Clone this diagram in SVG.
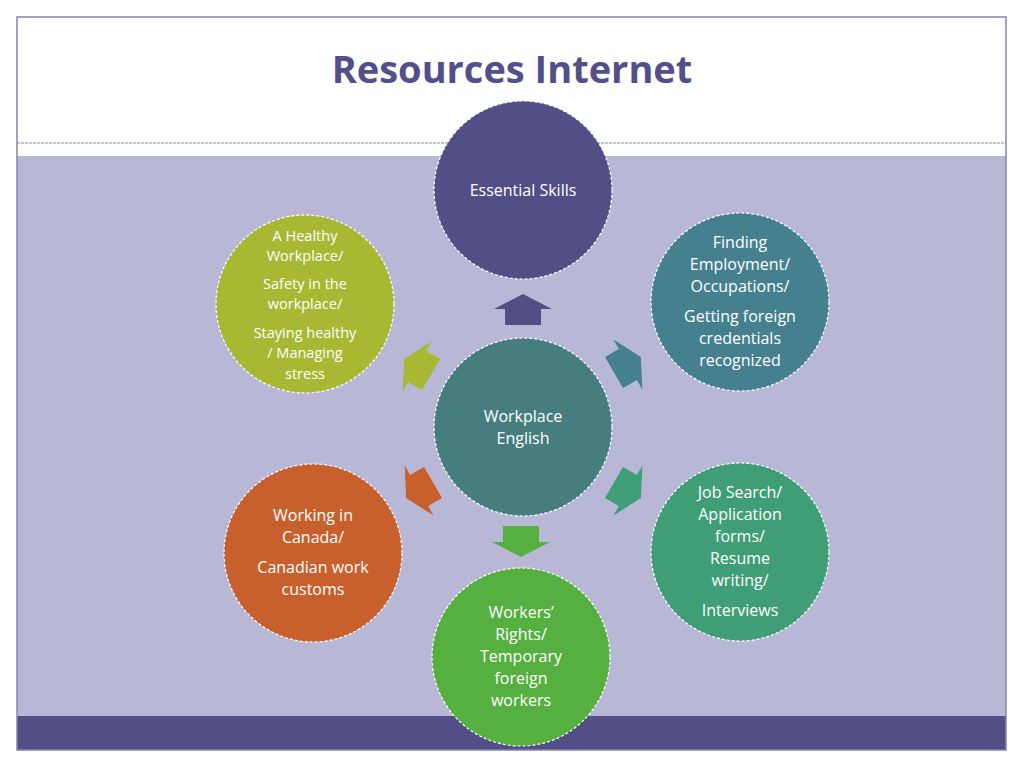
<svg xmlns="http://www.w3.org/2000/svg" width="1024" height="768" viewBox="0 0 1024 768">
<defs>
<style>
.c{stroke:#fff;stroke-width:1.2;stroke-dasharray:3 2}
.t{font-family:"Open Sans","Liberation Sans",sans-serif;font-size:16px;fill:#fff;text-anchor:middle}
</style>
<path id="ar" d="M0,-16 L29,-1 L18,-1 L18,15 L-18,15 L-18,-1 L-29,-1 Z"/>
</defs>
<rect width="1024" height="768" fill="#fff"/>
<rect x="17" y="156" width="989" height="560" fill="#b8b8d6"/>
<rect x="17" y="716" width="989" height="34" fill="#524f87"/>
<rect x="17" y="17" width="989" height="733" fill="none" stroke="#8584b0" stroke-width="1.5"/>
<line x1="17" y1="143" x2="1006" y2="143" stroke="#8584b0" stroke-width="1" stroke-dasharray="3 1"/>
<text x="512" y="83" text-anchor="middle" font-family="'Open Sans','Liberation Sans',sans-serif" font-size="38" font-weight="bold" fill="#524f8a">Resources Internet</text>
<g id="connectors">
<use href="#ar" transform="translate(523,310)" fill="#524f87"/>
<use href="#ar" transform="translate(627,365) rotate(60)" fill="#45808f"/>
<use href="#ar" transform="translate(627,490) rotate(120)" fill="#3f9e75"/>
<use href="#ar" transform="translate(521,541) rotate(180)" fill="#55b03f"/>
<use href="#ar" transform="translate(420,490) rotate(240)" fill="#c8602d"/>
<use href="#ar" transform="translate(418,367) rotate(300)" fill="#a8b833"/>
</g>
<g id="n-top"><circle class="c" cx="523" cy="190" r="89" fill="#524f87"/><text class="t" x="523" y="196">Essential Skills</text></g>
<g id="n-center"><circle class="c" cx="523" cy="427" r="89" fill="#467e80"/><text class="t" font-size="17" x="523" y="422">Workplace</text><text class="t" font-size="17" x="523" y="444">English</text></g>
<g id="n-tr"><circle class="c" cx="740" cy="302" r="89" fill="#45808f"/>
<text class="t" x="740" y="248">Finding</text><text class="t" x="740" y="270">Employment/</text><text class="t" x="740" y="292">Occupations/</text><text class="t" x="740" y="322">Getting foreign</text><text class="t" x="740" y="344">credentials</text><text class="t" x="740" y="366">recognized</text></g>
<g id="n-br"><circle class="c" cx="740" cy="552" r="89" fill="#3f9e75"/>
<text class="t" x="740" y="498">Job Search/</text><text class="t" x="740" y="520">Application</text><text class="t" x="740" y="542">forms/</text><text class="t" x="740" y="564">Resume</text><text class="t" x="740" y="586">writing/</text><text class="t" x="740" y="616">Interviews</text></g>
<g id="n-bottom"><circle class="c" cx="521" cy="657" r="89" fill="#55b03f"/>
<text class="t" x="521" y="618">Workers’</text><text class="t" x="521" y="640">Rights/</text><text class="t" x="521" y="662">Temporary</text><text class="t" x="521" y="684">foreign</text><text class="t" x="521" y="706">workers</text></g>
<g id="n-bl"><circle class="c" cx="313" cy="553" r="89" fill="#c8602d"/>
<text class="t" x="313" y="521">Working in</text><text class="t" x="313" y="543">Canada/</text><text class="t" x="313" y="573">Canadian work</text><text class="t" x="313" y="595">customs</text></g>
<g id="n-tl"><circle class="c" cx="305" cy="304" r="89" fill="#a8b833"/>
<g style="font-size:14.5px"><text class="t" style="font-size:14.5px" x="305" y="241">A Healthy</text><text class="t" style="font-size:14.5px" x="305" y="261">Workplace/</text><text class="t" style="font-size:14.5px" x="305" y="289">Safety in the</text><text class="t" style="font-size:14.5px" x="305" y="309">workplace/</text><text class="t" style="font-size:14.5px" x="305" y="338">Staying healthy</text><text class="t" style="font-size:14.5px" x="305" y="358">/ Managing</text><text class="t" style="font-size:14.5px" x="305" y="379">stress</text></g></g>
</svg>
